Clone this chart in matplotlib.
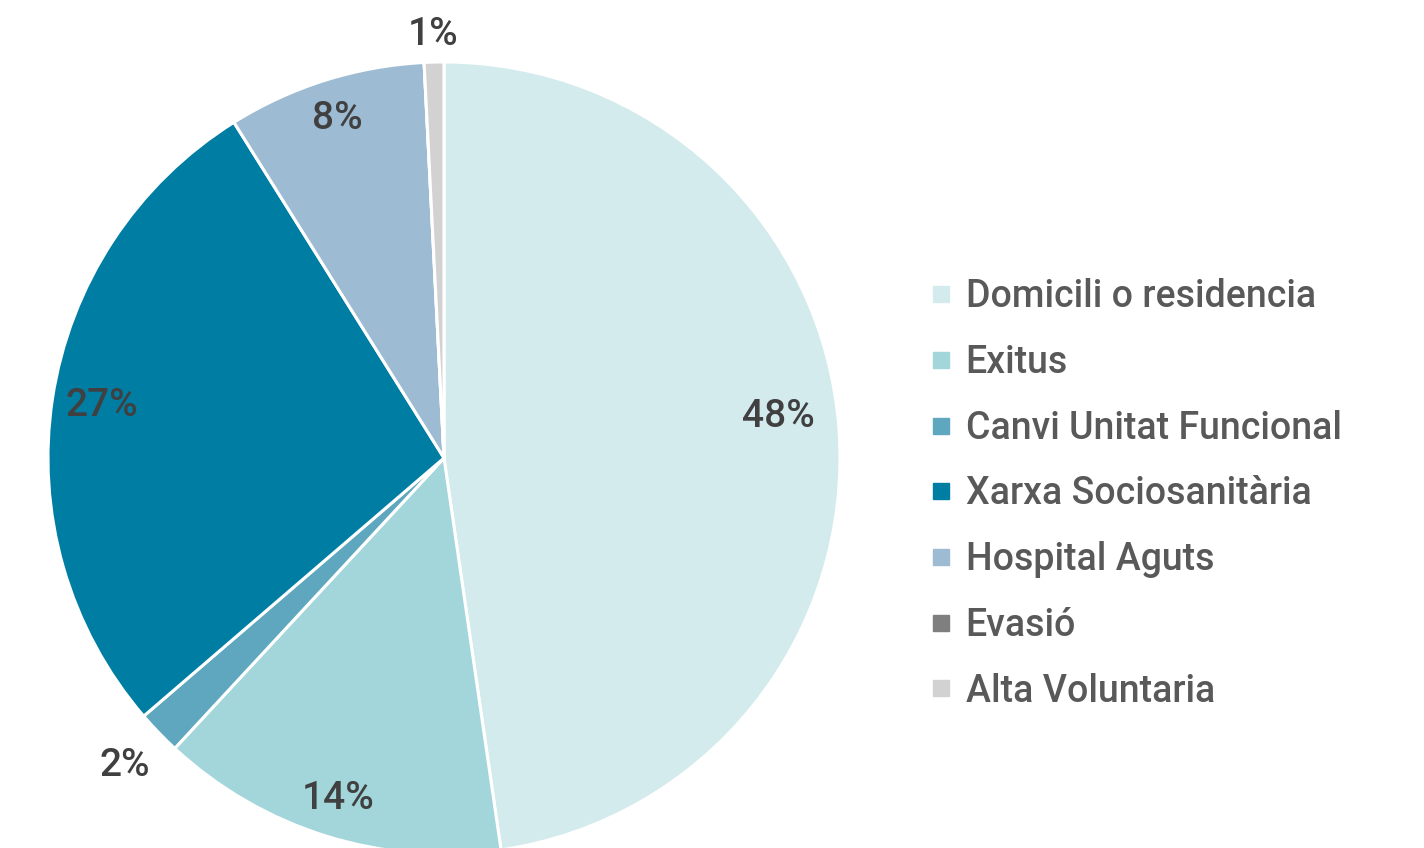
import matplotlib
matplotlib.use("Agg")
import matplotlib.pyplot as plt
from matplotlib.lines import Line2D
import numpy as np

categories = ["Domicili o residencia", "Exitus", "Canvi Unitat Funcional",
              "Xarxa Sociosanitària", "Hospital Aguts", "Evasió", "Alta Voluntaria"]
values = [47.7, 14.2, 1.8, 27.4, 8.1, 0.0, 0.8]
colors = ["#d3ebed", "#a2d6db", "#5ea7be", "#007da3", "#9dbcd4", "#7f7f7f", "#d2d2d2"]
label_radius = [0.85, 0.90, 1.12, 0.875, 0.90, None, 1.07]
label_angle_shift = [3.0, 0, 0, 0, 0, 0, 0]

plt.rcParams['font.family'] = ['Roboto', 'DejaVu Sans']

W, H = 1424, 848
fig = plt.figure(figsize=(W / 100, H / 100), dpi=100)
cx, cy, r = 444, 458, 396
ax = fig.add_axes([(cx - r) / W, (H - cy - r) / H, 2 * r / W, 2 * r / H])

wedges, _ = ax.pie(values, colors=colors, startangle=90, counterclock=False,
                   radius=1.0, wedgeprops=dict(edgecolor="white", linewidth=2.2))
ax.set_xlim(-1, 1)
ax.set_ylim(-1, 1)
ax.set_aspect("equal")
ax.axis("off")

total = sum(values)
for w, v, lr, sh in zip(wedges, values, label_radius, label_angle_shift):
    if v <= 0 or lr is None:
        continue
    ang = np.deg2rad((w.theta1 + w.theta2) / 2 + sh)
    ax.text(lr * np.cos(ang), lr * np.sin(ang), f"{round(v / total * 100):.0f}%",
            ha="center", va="center", fontsize=28, fontweight="medium",
            color="#404040", clip_on=False)

handles = [Line2D([], [], marker="s", linestyle="none", markersize=12,
                  markerfacecolor=c, markeredgecolor=c) for c in colors]
leg = fig.legend(handles, categories, loc="center left",
                 bbox_to_anchor=(913 / W, (H - 494) / H), frameon=False,
                 prop=dict(size=27, weight="medium"), labelcolor="#595959",
                 handletextpad=0.3, labelspacing=0.765, handlelength=0.7,
                 borderaxespad=0)

fig.savefig("out.png", dpi=100)
